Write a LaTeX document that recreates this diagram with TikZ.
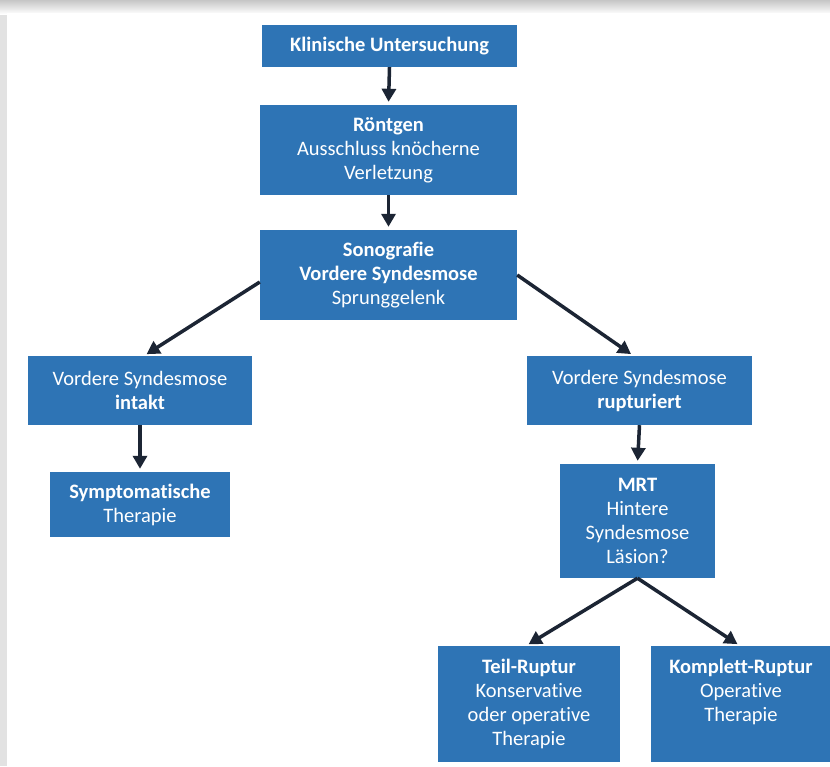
\documentclass[tikz,border=0pt]{standalone}
\usepackage{fontspec}
\setmainfont{Carlito}[Ligatures=NoCommon]
\usetikzlibrary{arrows.meta}
\definecolor{boxblue}{HTML}{2E74B5}
\definecolor{arrowdark}{HTML}{1C2534}
\definecolor{shadowgrey}{HTML}{E2E2E2}

\begin{document}
\begin{tikzpicture}[
    x=1pt, y=-1pt,
    block/.style={
        fill=boxblue, draw=none, inner sep=2pt,
        text=white, align=center,
        font=\fontsize{20.5}{24}\selectfont,
    },
    boxtext/.style={
        text=white, align=center, inner sep=2pt,
        font=\fontsize{20.5}{24}\selectfont,
    },
    arr/.style={
        -{Triangle[length=13pt, width=14pt]}, line width=3.5pt,
        color=arrowdark, shorten >=3pt,
    },
]
\useasboundingbox (0,0) rectangle (830,766);

% ════════════════════════════════════════
% Page with shadow
% ════════════════════════════════════════
\fill[shadowgrey] (0,0) rectangle (830,766);
\shade[top color=gray!45, bottom color=white] (0,0) rectangle (830,14);
\fill[white] (7,13) rectangle (830,766);

% ════════════════════════════════════════
% Main line (top)
% ════════════════════════════════════════
\node[block, minimum width=255, minimum height=42] (klinik) at (389.5, 46)
    {\textbf{Klinische Untersuchung}};
\node[block, minimum width=257, minimum height=90] (roentgen) at (388.5, 150)
    {\textbf{Röntgen}\\Ausschluss knöcherne\\Verletzung};
\node[block, minimum width=257, minimum height=90] (sono) at (388.5, 275)
    {\textbf{Sonografie}\\\textbf{Vordere Syndesmose}\\Sprunggelenk};

% ════════════════════════════════════════
% Left branch
% ════════════════════════════════════════
\node[block, minimum width=224, minimum height=69] (intakt) at (140, 390.5)
    {Vordere Syndesmose\\\textbf{intakt}};
\node[block, minimum width=180, minimum height=65] (sympt) at (140, 504.5)
    {\textbf{Symptomatische}\\Therapie};

% ════════════════════════════════════════
% Right branch
% ════════════════════════════════════════
\node[block, minimum width=225, minimum height=69] (ruptur) at (639.5, 390.5)
    {Vordere Syndesmose\\\textbf{rupturiert}};
\node[block, minimum width=155, minimum height=114] (mrt) at (637.5, 521)
    {\textbf{MRT}\\Hintere\\Syndesmose\\Läsion?};
\node[block, minimum width=182, minimum height=116] (teil) at (529, 704)
    {\textbf{Teil-Ruptur}\\Konservative\\oder operative\\Therapie};
\node[block, minimum width=180, minimum height=116] (komplett) at (741, 704) {};
\node[boxtext, anchor=north] (komplettTxt) at ([yshift=-11]komplett.north)
    {\textbf{Komplett-Ruptur}\\Operative\\Therapie};

% ════════════════════════════════════════
% Arrows
% ════════════════════════════════════════
\draw[arr] (klinik.south) -- (roentgen.north);
\draw[arr] (roentgen.south) -- (sono.north);
\draw[arr] ([yshift=-7]sono.west) -- ([xshift=4]intakt.north);
\draw[arr] (sono.east) -- ([xshift=-6]ruptur.north);
\draw[arr] (intakt.south) -- (sympt.north);
\draw[arr] (ruptur.south) -- (mrt.north);
\draw[arr] (mrt.south) -- ([xshift=-3]teil.north);
\draw[arr] (mrt.south) -- ([xshift=-1]komplett.north);

\end{tikzpicture}
\end{document}
